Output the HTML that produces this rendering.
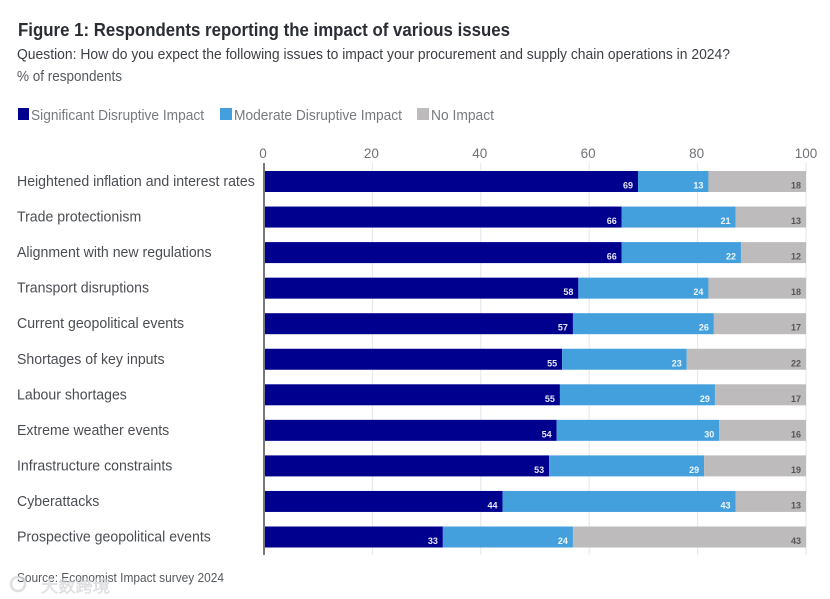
<!DOCTYPE html>
<html lang="en">
<head>
<meta charset="utf-8">
<title>Respondents reporting the impact of various issues</title>
<style>
html,body{margin:0;padding:0;background:#fff;width:830px;height:599px;overflow:hidden}
svg{display:block;font-family:"Liberation Sans",sans-serif;filter:blur(0.3px)}
</style>
</head>
<body>
<svg id="chart" width="830" height="599" viewBox="0 0 830 599" xmlns="http://www.w3.org/2000/svg">
  <rect width="830" height="599" fill="#fff"/>
  <text x="18" y="36" font-size="18.5" font-weight="700" fill="#2a2d33" textLength="492" lengthAdjust="spacingAndGlyphs">Figure 1: Respondents reporting the impact of various issues</text>
  <text x="17" y="59" font-size="14.5" fill="#3c3f44" textLength="713" lengthAdjust="spacingAndGlyphs">Question: How do you expect the following issues to impact your procurement and supply chain operations in 2024?</text>
  <text x="17" y="81" font-size="14.5" fill="#55585c" textLength="105" lengthAdjust="spacingAndGlyphs">% of respondents</text>

  <g>
    <rect x="18" y="108" width="11" height="12" fill="#00008f"/>
    <text x="31" y="120" font-size="14.5" fill="#777a7e" textLength="173" lengthAdjust="spacingAndGlyphs">Significant Disruptive Impact</text>
    <rect x="220" y="108" width="12" height="12" fill="#44a0dc"/>
    <text x="234" y="120" font-size="14.5" fill="#777a7e" textLength="168" lengthAdjust="spacingAndGlyphs">Moderate Disruptive Impact</text>
    <rect x="417" y="108" width="12" height="12" fill="#bdbbbb"/>
    <text x="431" y="120" font-size="14.5" fill="#777a7e" textLength="63" lengthAdjust="spacingAndGlyphs">No Impact</text>
  </g>

  <g id="grid"></g>
  <g id="ticks"></g>
  <g id="bars"></g>
  <g id="labels"></g>
  <g id="values"></g>
  <line x1="264" y1="163" x2="264" y2="555" stroke="#77787a" stroke-width="2"/>

  <text x="17" y="582" font-size="13" fill="#55585c" textLength="207" lengthAdjust="spacingAndGlyphs">Source: Economist Impact survey 2024</text>
  <g opacity="0.75">
    <circle cx="18" cy="584" r="7" fill="none" stroke="#d4d5d8" stroke-width="2.5"/>
    <text x="41" y="592" font-size="16" font-family="'Liberation Sans','Noto Sans CJK SC',sans-serif" fill="#e2e3e6" stroke="#c4c5c8" stroke-width="0.4" textLength="69" lengthAdjust="spacingAndGlyphs">大数跨境</text>
  </g>
</svg>
<script>
const categories = [
  "Heightened inflation and interest rates",
  "Trade protectionism",
  "Alignment with new regulations",
  "Transport disruptions",
  "Current geopolitical events",
  "Shortages of key inputs",
  "Labour shortages",
  "Extreme weather events",
  "Infrastructure constraints",
  "Cyberattacks",
  "Prospective geopolitical events"
];
const significantImpact = [69, 66, 66, 58, 57, 55, 54.6, 54, 52.6, 44, 33];
const moderateImpact = [13, 21, 22, 24, 26, 23, 28.6, 30, 28.6, 43, 24];
const noImpact = [18, 13, 12, 18, 17, 22, 16.8, 16, 18.8, 13, 43];
const xTicks = [0, 20, 40, 60, 80, 100];

const NS = "http://www.w3.org/2000/svg";
const xScale = v => 264 + v * 5.42;
const rowTop = i => 171 + i * 35.55;
const BAR_H = 21;

function make(tag, parent, attrs, txt) {
  const el = document.createElementNS(NS, tag);
  for (const k in attrs) el.setAttribute(k, attrs[k]);
  if (txt !== undefined) el.textContent = txt;
  parent.appendChild(el);
  return el;
}

const gridG = document.getElementById("grid");
const ticksG = document.getElementById("ticks");
const barsG = document.getElementById("bars");
const labelsG = document.getElementById("labels");
const valuesG = document.getElementById("values");

xTicks.forEach(t => {
  const line = make("line", gridG, {x1: xScale(t), x2: xScale(t), y1: 163, y2: 555, stroke: "#e3e5ec", "stroke-width": 1});
  
  
  const label = make("text", ticksG, {x: t === 100 ? xScale(t) : xScale(t) - 1, y: 158, "font-size": 13.5, fill: "#6f7276", "text-anchor": "middle"}, t);
  
  
});

const seriesList = [
  {values: significantImpact, fill: "#00008f", text: "#e6e6f5"},
  {values: moderateImpact, fill: "#44a0dc", text: "#eef6fc"},
  {values: noImpact, fill: "#bdbbbb", text: "#55565a"}
];

categories.forEach((cat, i) => {
  const label = make("text", labelsG, {
    transform: "translate(17," + (rowTop(i) + 15) + ") scale(0.975,1)",
    "font-size": 14.5, fill: "#4a4d52"
  }, cat);
  
  

  let cum = 0;
  seriesList.forEach(s => {
    const v = s.values[i];
    const x0 = xScale(cum);
    const x1 = xScale(cum + v);
    const bar = make("rect", barsG, {x: x0, y: rowTop(i), width: x1 - x0, height: BAR_H, fill: s.fill});
    
    
    const val = make("text", valuesG, {
      x: x1 - 5, y: rowTop(i) + 17.5, "font-size": 9, "font-weight": 700,
      fill: s.text, "text-anchor": "end"
    }, Math.round(v));
    
    
    cum += v;
  });
});
</script>
</body>
</html>
